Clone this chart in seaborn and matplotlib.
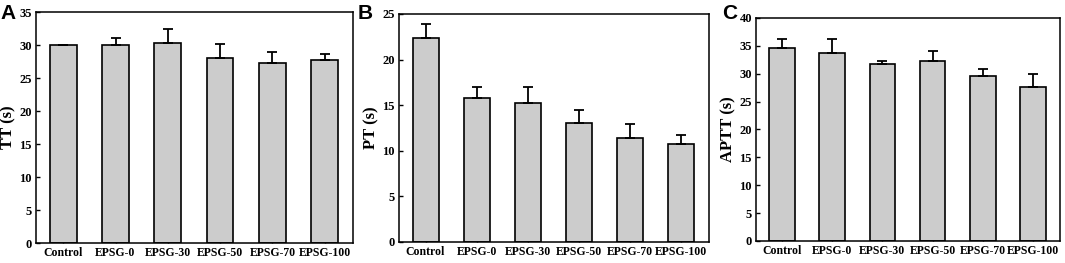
import seaborn as sns
import numpy as np
import pandas as pd
import matplotlib.pyplot as plt

groups = ['Control', 'EPSG-0', 'EPSG-30', 'EPSG-50', 'EPSG-70', 'EPSG-100']

tt_mean = [30.0, 30.0, 30.35, 28.0, 27.25, 27.7]
tt_err = [0.0, 1.0, 2.05, 2.2, 1.65, 1.0]

pt_mean = [22.37, 15.8, 15.29, 13.07, 11.39, 10.77]
pt_err = [1.53, 1.24, 1.71, 1.42, 1.53, 0.98]

aptt_mean = [34.66, 33.7, 31.72, 32.26, 29.68, 27.7]
aptt_err = [1.56, 2.5, 0.6, 1.74, 1.2, 2.3]

sns.set_style('ticks')
plt.rcParams['font.family'] = ['Liberation Serif', 'DejaVu Serif']
plt.rcParams['font.weight'] = 'bold'
plt.rcParams['text.color'] = 'black'
plt.rcParams['axes.edgecolor'] = 'black'
plt.rcParams['axes.labelcolor'] = 'black'
plt.rcParams['xtick.color'] = 'black'
plt.rcParams['ytick.color'] = 'black'

fig = plt.figure(figsize=(10.65, 2.63), dpi=100)

panels = [
    ('A', 'TT (s)', tt_mean, tt_err, 35, [0.0338, 0.076, 0.2977, 0.878], (0.0, 0.985)),
    ('B', 'PT (s)', pt_mean, pt_err, 25, [0.3746, 0.080, 0.2911, 0.867], (0.336, 0.985)),
    ('C', 'APTT (s)', aptt_mean, aptt_err, 40, [0.7099, 0.0837, 0.2854, 0.848], (0.678, 0.985)),
]

for letter, ylab, mean, err, ymax, rect, lpos in panels:
    ax = fig.add_axes(rect)
    df = pd.DataFrame({'group': groups, 'value': mean})
    sns.barplot(data=df, x='group', y='value', color='#cccccc', edgecolor='black',
                linewidth=1.2, width=0.51, saturation=1, errorbar=None, ax=ax)
    x = np.arange(len(groups))
    ax.errorbar(x, mean, yerr=[np.zeros(len(err)), err], fmt='none', ecolor='black',
                elinewidth=1.3, capsize=3.5, capthick=1.3, zorder=1)
    ax.set_xlim(-0.52, 5.54)
    ax.set_ylim(0, ymax)
    ax.set_yticks(np.arange(0, ymax + 1, 5))
    ax.tick_params(axis='both', direction='in', length=3, width=1)
    ax.tick_params(axis='x', pad=3, labelsize=8.5)
    ax.tick_params(axis='y', pad=3, labelsize=9)
    for s in ax.spines.values():
        s.set_linewidth(1.1)
        s.set_visible(True)
    ax.set_xlabel('')
    ax.set_ylabel(ylab, fontsize=12, fontweight='bold', labelpad=2)
    for lab in ax.get_xticklabels() + ax.get_yticklabels():
        lab.set_fontweight('bold')
    fig.text(lpos[0], lpos[1], letter, fontsize=15, fontweight='bold',
             family=['Liberation Sans', 'DejaVu Sans'], ha='left', va='top')

fig.savefig('out.png', dpi=100)
